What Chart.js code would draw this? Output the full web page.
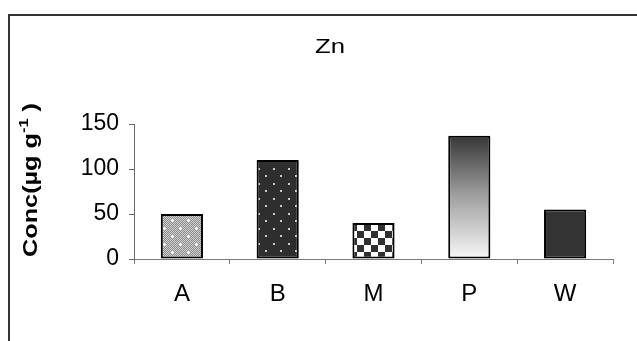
<!DOCTYPE html>
<html>
<head>
<meta charset="utf-8">
<script src="https://cdn.jsdelivr.net/npm/chart.js@4/dist/chart.umd.min.js"></script>
<style>
  html, body { margin: 0; padding: 0; background: #fff; }
  #wrap { position: relative; width: 637px; height: 341px; }
</style>
</head>
<body>
<div id="wrap"><canvas id="c" width="637" height="341"></canvas></div>
<script>
// Zinc concentration by sample site
const categories = ['A', 'B', 'M', 'P', 'W'];
const zinc = [50, 110, 40, 137, 55];
const yTicks = [0, 50, 100, 150];
const chartTitle = 'Zn';
const yTitleMain = 'Conc(µg g';
const yTitleSup = '-1';
const yTitleEnd = ' )';

const FONT = '"Liberation Sans", Arial, sans-serif';

// --- fill patterns for the bars ---
function tile(w, h, draw) {
  const t = document.createElement('canvas');
  t.width = w; t.height = h;
  draw(t.getContext('2d'));
  return t;
}
const ctx0 = document.getElementById('c').getContext('2d');

// fine grey dither with white sparkles
const ditherTile = tile(16, 16, g => {
  for (let y = 0; y < 16; y++) for (let x = 0; x < 16; x++) {
    g.fillStyle = (x + y) % 2 ? '#8a8a8a' : '#d2d2d2';
    g.fillRect(x, y, 1, 1);
  }
  g.fillStyle = '#ffffff';
  [[4, 4], [12, 12]].forEach(([x, y]) => {
    g.fillRect(x - 1, y, 3, 1);
    g.fillRect(x, y - 1, 1, 3);
  });
});
// dark ground with light dots
const dotTile = tile(15, 15, g => {
  g.fillStyle = '#2e2e2e';
  g.fillRect(0, 0, 15, 15);
  g.fillStyle = '#c8c8c8';
  g.fillRect(3, 3, 2, 2);
  g.fillRect(10, 10, 2, 2);
});
// checkerboard
const checkTile = tile(14, 14, g => {
  g.fillStyle = '#ffffff';
  g.fillRect(0, 0, 14, 14);
  g.fillStyle = '#303030';
  g.fillRect(0, 0, 7, 7);
  g.fillRect(7, 7, 7, 7);
});

const fills = {
  A: ctx0.createPattern(ditherTile, 'repeat'),
  B: ctx0.createPattern(dotTile, 'repeat'),
  M: ctx0.createPattern(checkTile, 'repeat'),
  W: '#333333'
};

function barFill(context) {
  const cat = categories[context.dataIndex];
  if (cat === 'P') {
    const chart = context.chart;
    const ys = chart.scales.y;
    if (!ys || !chart.chartArea) return '#999';
    const top = ys.getPixelForValue(zinc[context.dataIndex]);
    const bottom = ys.getPixelForValue(0);
    const grad = chart.ctx.createLinearGradient(0, top, 0, bottom);
    grad.addColorStop(0, '#363636');
    grad.addColorStop(0.5, '#a2a2a2');
    grad.addColorStop(1, '#f8f8f8');
    return grad;
  }
  return fills[cat];
}

// outer frame, chart title and rotated axis title
const decor = {
  id: 'decor',
  afterDraw(chart) {
    const g = chart.ctx;
    g.save();
    g.strokeStyle = '#333333';
    g.lineWidth = 2;
    g.beginPath();
    g.moveTo(8, 15); g.lineTo(637, 15);
    g.moveTo(9, 14); g.lineTo(9, 341);
    g.stroke();

    // title
    g.fillStyle = '#000';
    g.font = '21px ' + FONT;
    g.textAlign = 'center';
    g.textBaseline = 'middle';
    const tw = g.measureText(chartTitle).width;
    g.translate(330, 47);
    g.scale(30 / tw, 1);
    g.fillText(chartTitle, 0, 0);
    g.restore();

    // y axis title with superscript
    g.save();
    g.fillStyle = '#000';
    const big = 'bold 20px ' + FONT;
    const small = 'bold 13px ' + FONT;
    g.font = big;
    const w1 = g.measureText(yTitleMain).width;
    const w3 = g.measureText(yTitleEnd).width;
    g.font = small;
    const w2 = g.measureText(yTitleSup).width;
    const total = w1 + w2 + w3;
    g.translate(37, 180);
    g.rotate(-Math.PI / 2);
    g.scale(154 / total, 1);
    g.textAlign = 'left';
    g.textBaseline = 'alphabetic';
    let x = -total / 2;
    g.font = big;
    g.fillText(yTitleMain, x, 0);
    x += w1;
    g.font = small;
    g.fillText(yTitleSup, x, -9);
    x += w2;
    g.font = big;
    g.fillText(yTitleEnd, x, 0);
    g.restore();
  }
};

new Chart(document.getElementById('c'), {
  type: 'bar',
  data: {
    labels: categories,
    datasets: [{
      label: chartTitle,
      data: zinc,
      backgroundColor: barFill,
      borderColor: '#000000',
      borderWidth: 2,
      borderSkipped: false,
      categoryPercentage: 1,
      barPercentage: 0.44
    }]
  },
  options: {
    responsive: false,
    animation: false,
    events: [],
    layout: { padding: { top: 124, right: 24, left: 0, bottom: 0 } },
    plugins: { legend: { display: false }, title: { display: false }, tooltip: { enabled: false } },
    scales: {
      x: {
        offset: true,
        border: { display: true, color: '#7a7a7a', width: 1 },
        grid: { display: true, offset: true, drawOnChartArea: false, tickLength: 5, color: '#7a7a7a' },
        ticks: { color: '#000', font: { family: FONT, size: 24 }, padding: 16, maxRotation: 0 },
        afterFit(s) { s.height = 82; }
      },
      y: {
        min: 0,
        max: 150,
        border: { display: true, color: '#6a6a6a', width: 1 },
        grid: { display: true, drawOnChartArea: false, tickLength: 5, color: '#6a6a6a' },
        ticks: { color: '#000', font: { family: FONT, size: 23 }, padding: 10 },
        afterBuildTicks(s) { s.ticks = yTicks.map(v => ({ value: v })); },
        afterFit(s) { s.width = 134; }
      }
    }
  },
  plugins: [decor]
});
</script>
</body>
</html>
